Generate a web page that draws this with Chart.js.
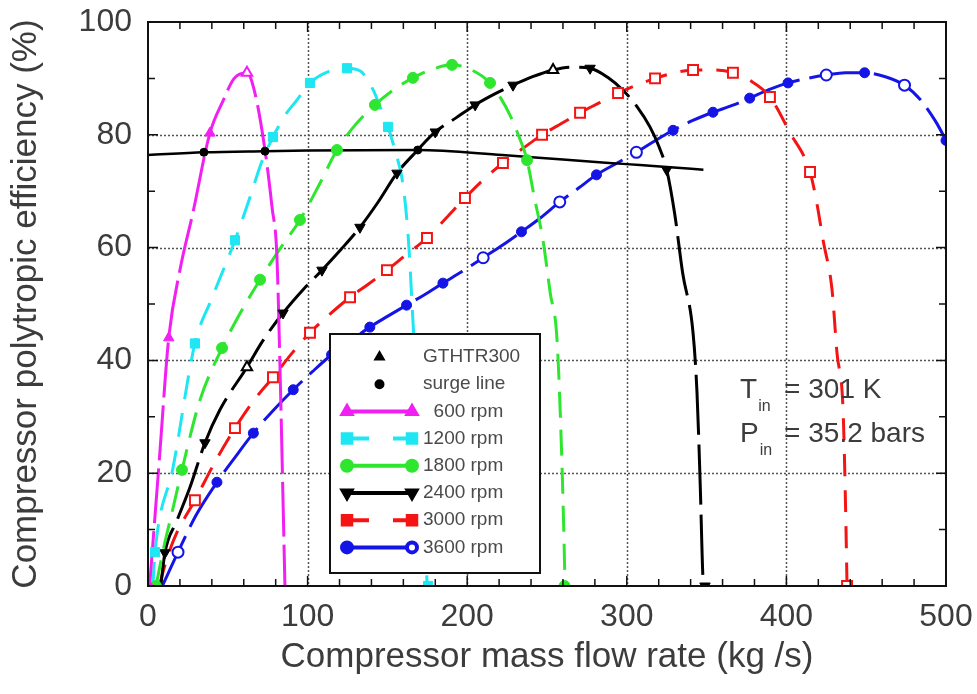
<!DOCTYPE html>
<html>
<head>
<meta charset="utf-8">
<script src="https://cdn.jsdelivr.net/npm/chart.js@4.4.1/dist/chart.umd.min.js"></script>
<style>
  html, body { margin: 0; padding: 0; background: #fff; }
  #wrap { width: 977px; height: 694px; }
</style>
</head>
<body>
<div id="wrap"><canvas id="chart" width="977" height="694"></canvas></div>
<script>
// axis ticks
const xTicks = [0, 100, 200, 300, 400, 500];
const yTicks = [0, 20, 40, 60, 80, 100];

const seriesLabels = ["GTHTR300", "surge line", "600 rpm", "1200 rpm", "1800 rpm", "2400 rpm", "3000 rpm", "3600 rpm"];

// speed lines, [mass flow, efficiency]
const line600 = [[1, 0], [7, 22], [13, 44], [20, 56], [28, 66], [38.8, 80.3], [47, 86], [54, 90], [62, 91],
  [67, 87.4], [73.3, 77.3], [77.7, 67.2], [80.8, 58.3], [82.7, 38.8], [84.6, 15.2], [85.8, 0]];
const mark600 = [[1, 0], [13, 44], [38.8, 80.3]];
const open600 = [[62, 91]];

const line1200 = [[3, 0], [4.4, 6], [15.7, 21], [29.4, 43], [40, 51], [54.5, 61.3], [64, 69], [71, 75], [78.3, 79.6],
  [86, 83.5], [93.4, 86.2], [101.5, 89.2], [113, 91.2], [124.7, 91.8], [133, 91.3], [141, 88], [146, 84.5],
  [150.4, 81.4], [155, 77], [159, 72.5], [161.5, 67], [163.5, 60], [166, 47], [168.5, 34], [171, 20], [173, 10], [175, 0]];
const mark1200 = [[4.4, 6], [29.4, 43], [54.5, 61.3], [78.3, 79.6], [101.5, 89.2], [124.7, 91.8], [150.4, 81.4], [175.5, 0]];

const line1800 = [[5, 0], [10, 7], [15, 13], [21.3, 20.6], [32.6, 33], [46.4, 42.2], [58, 48.5], [70.2, 54.3], [82, 59.5],
  [95.2, 64.9], [107, 71], [118.4, 77.3], [130, 81.8], [142.2, 85.3], [154, 88], [166, 90.1], [178, 91.6], [190.5, 92.4],
  [202, 91.6], [214.3, 89.2], [221, 86.5], [226.8, 83.5], [232, 80], [237.5, 75.5], [242, 69], [247.5, 61.3], [252, 52],
  [256.3, 43.6], [259, 25], [260.5, 10], [261.3, 0]];
const mark1800 = [[5, 0], [21.3, 20.6], [46.4, 42.2], [70.2, 54.3], [95.2, 64.9], [118.4, 77.3], [142.2, 85.3], [166, 90.1],
  [190.5, 92.4], [214.3, 89.2], [237.5, 75.5], [261, 0]];

const line2400 = [[8, 0], [10.6, 5.9], [18, 11.5], [26.3, 17.5], [35.7, 25.4], [45, 31.2], [62, 38.8], [72, 43.5], [84.6, 48.4],
  [97, 52.5], [109, 56], [121, 59.7], [132.8, 63.6], [144, 68], [156, 73.2], [168, 77], [180, 80.5], [193, 83], [205, 85.3],
  [217, 87.2], [228.7, 88.8], [241, 90.3], [253.8, 91.5], [265, 92], [277, 91.8], [288, 90.2], [297.6, 87.9], [306.4, 85],
  [314.5, 81.4], [320, 78], [325, 73.8], [330, 66], [335, 55.5], [341.5, 44.9], [344, 34.2], [346, 18], [347.7, 1.6], [348.5, 0]];
const mark2400 = [[10.6, 5.9], [35.7, 25.4], [84.6, 48.4], [109, 56], [132.8, 63.6], [156, 73.2], [180, 80.5], [205, 85.3],
  [228.7, 88.8], [277, 91.8], [325, 73.8], [349, 0]];
const open2400 = [[62, 38.8], [253.8, 91.5]];

const line3000 = [[7, 0], [12, 5], [18, 9.4], [29.4, 15.2], [42, 22], [54.5, 28], [66, 32.8], [78.3, 37], [90, 41.2],
  [101.5, 44.9], [114, 48.2], [126.6, 51.2], [138, 53.5], [149.7, 56], [162, 58.8], [174.8, 61.7], [187, 65.3], [198.6, 68.8],
  [210, 72], [222.4, 75], [235, 77.6], [246.9, 80], [259, 82], [270.7, 83.9], [283, 85.7], [294.5, 87.4], [306, 88.8],
  [317.7, 90], [330, 91], [341.5, 91.5], [355, 91.5], [366.5, 91], [378, 89.5], [389.7, 86.7], [402, 80.5], [414.8, 73.4],
  [419, 68], [423, 61.3], [428.6, 52.5], [431.7, 41.3], [435.5, 31.2], [437, 15], [438, 0]];
const mark3000 = [[29.4, 15.2], [54.5, 28], [78.3, 37], [101.5, 44.9], [126.6, 51.2], [149.7, 56], [174.8, 61.7],
  [198.6, 68.8], [222.4, 75], [246.9, 80], [270.7, 83.9], [294.5, 87.4], [317.7, 90], [341.5, 91.5], [366.5, 91],
  [389.7, 86.7], [414.8, 73.4], [438, 0]];

const line3600 = [[9, 0], [18.8, 6], [30, 12.5], [43.2, 18.4], [55, 23], [66, 27.1], [78, 31], [91, 34.8], [103, 38],
  [115, 41], [127, 43.5], [139, 45.9], [150, 47.8], [162, 49.8], [173, 51.6], [184.8, 53.7], [197, 55.8], [210, 58.2],
  [222, 60.4], [234, 62.8], [246, 65.3], [258, 68.1], [270, 70.6], [281, 72.9], [294, 75], [306, 76.9], [318, 79],
  [329, 80.8], [341, 82.5], [354, 84], [366, 85.2], [377, 86.5], [389, 88], [401, 89.2], [413, 90], [425, 90.6],
  [437, 91], [449, 91], [462, 90.3], [474, 88.8], [484, 86.2], [493, 82.6], [500, 79], [505, 76]];
const mark3600 = [[43.2, 18.4], [66, 27.1], [91, 34.8], [115, 41], [139, 45.9], [162, 49.8], [184.8, 53.7], [234, 62.8],
  [281, 72.9], [329, 80.8], [354, 84], [377, 86.5], [401, 89.2], [449, 91], [500, 79]];
const open3600 = [[18.8, 6], [210, 58.2], [258, 68.1], [306, 76.9], [425, 90.6], [474, 88.8]];

const surgeLine = [[0, 76.4], [35, 76.9], [73, 77.1], [100, 77.2], [169, 77.3], [222, 76.4], [260, 75.6], [300, 74.8],
  [325, 74.3], [348, 73.8]];
const surgeMarks = [[35, 76.9], [73.3, 77.1], [169, 77.3]];

const gthtr300 = [];

// annotation values
const tIn = "301 K";
const pIn = "35.2 bars";

const FONT = "'Liberation Sans', Arial, Helvetica, sans-serif";
const TEXT = "#3c3c3c";

const MAGENTA = "#f21ff2";
const CYAN = "#1ee6f2";
const GREEN = "#2ee62e";
const BLACK = "#000000";
const RED = "#f51414";
const BLUE = "#1414e6";

const toXY = (pts) => pts.map(([x, y]) => ({ x, y }));

function curve(points, color, dash) {
  return {
    data: toXY(points),
    showLine: true,
    borderColor: color,
    borderWidth: 3,
    borderDash: dash,
    pointRadius: 0,
    cubicInterpolationMode: "monotone",
    order: 3,
  };
}

function marks(points, color, style, extra) {
  return Object.assign({
    data: toXY(points),
    showLine: false,
    pointStyle: style,
    pointRadius: 5,
    pointBackgroundColor: color,
    pointBorderColor: color,
    pointBorderWidth: 1,
    order: 1,
  }, extra || {});
}

// legend entries: style only
const legendItems = [
  { label: seriesLabels[0], marker: { style: "triangle", color: BLACK, fill: BLACK, r: 5 }, only: true },
  { label: seriesLabels[1], marker: { style: "circle", color: BLACK, fill: BLACK, r: 4 }, only: true },
  { label: seriesLabels[2], color: MAGENTA, dash: [], marker: { style: "triangle", color: MAGENTA, fill: MAGENTA, r: 5 } },
  { label: seriesLabels[3], color: CYAN, dash: [22, 24], marker: { style: "rect", color: CYAN, fill: CYAN, r: 6 } },
  { label: seriesLabels[4], color: GREEN, dash: [], marker: { style: "circle", color: GREEN, fill: GREEN, r: 5 } },
  { label: seriesLabels[5], color: BLACK, dash: [], marker: { style: "triangle", rot: 180, color: BLACK, fill: BLACK, r: 5 } },
  { label: seriesLabels[6], color: RED, dash: [22, 24], marker: { style: "rect", color: RED, fill: RED, r: 6 } },
  { label: seriesLabels[7], color: BLUE, dash: [], marker: { style: "circle", color: BLUE, fill: BLUE, r: 5 }, endOpen: true },
];

const decor = {
  id: "decor",
  beforeDatasetsDraw(chart) {
    const { ctx, chartArea: a, scales: { x, y } } = chart;
    ctx.save();
    ctx.strokeStyle = "#555";
    ctx.lineWidth = 1.5;
    ctx.setLineDash([2, 2]);
    xTicks.slice(1, -1).forEach((v) => {
      const px = Math.round(x.getPixelForValue(v)) + 0.5;
      ctx.beginPath(); ctx.moveTo(px, a.top); ctx.lineTo(px, a.bottom); ctx.stroke();
    });
    yTicks.slice(1, -1).forEach((v) => {
      const py = Math.round(y.getPixelForValue(v)) + 0.5;
      ctx.beginPath(); ctx.moveTo(a.left, py); ctx.lineTo(a.right, py); ctx.stroke();
    });
    ctx.restore();
  },
  afterDatasetsDraw(chart) {
    const { ctx, chartArea: a, scales: { x, y } } = chart;
    ctx.save();
    // frame and inward ticks
    ctx.strokeStyle = "#111";
    ctx.lineWidth = 2;
    ctx.setLineDash([]);
    ctx.strokeRect(a.left, a.top, a.right - a.left, a.bottom - a.top);
    ctx.lineWidth = 1.5;
    for (let v = 0; v <= 500; v += 20) {
      const px = x.getPixelForValue(v);
      const len = v % 100 === 0 ? 10 : 7;
      ctx.beginPath();
      ctx.moveTo(px, a.bottom); ctx.lineTo(px, a.bottom - len);
      ctx.moveTo(px, a.top); ctx.lineTo(px, a.top + len);
      ctx.stroke();
    }
    for (let v = 0; v <= 100; v += 10) {
      const py = y.getPixelForValue(v);
      const len = v % 20 === 0 ? 10 : 7;
      ctx.beginPath();
      ctx.moveTo(a.left, py); ctx.lineTo(a.left + len, py);
      ctx.moveTo(a.right, py); ctx.lineTo(a.right - len, py);
      ctx.stroke();
    }

    // inlet conditions
    ctx.fillStyle = TEXT;
    ctx.textBaseline = "alphabetic";
    const ax = x.getPixelForValue(371);
    const rows = [["T", tIn, 33.3], ["P", pIn, 25.5]];
    rows.forEach(([sym, val, yv]) => {
      const by = y.getPixelForValue(yv);
      ctx.font = "28px " + FONT;
      ctx.textAlign = "left";
      ctx.fillText(sym, ax, by);
      const w = ctx.measureText(sym).width;
      ctx.fillText("= " + val, ax + 44, by);
      ctx.font = "16px " + FONT;
      ctx.fillText("in", ax + w + 1, by + 13);
    });

    // legend box
    const lx = a.left + 182, ly = a.top + 312, lw = 210, lh = 239;
    ctx.fillStyle = "#fff";
    ctx.fillRect(lx, ly, lw, lh);
    ctx.strokeStyle = "#111";
    ctx.lineWidth = 2;
    ctx.strokeRect(lx, ly, lw, lh);
    ctx.font = "19px " + FONT;
    const ref = ctx.measureText("1200 rpm").width;
    legendItems.forEach((it, i) => {
      const cy = ly + 23 + i * 27.2;
      const x0 = lx + 17, x1 = lx + 82;
      const m = it.marker;
      const pt = (px, open) => {
        ctx.fillStyle = open ? "#fff" : m.fill;
        ctx.strokeStyle = m.color;
        Chart.helpers.drawPoint(ctx, { pointStyle: m.style, radius: m.r, rotation: m.rot || 0, borderWidth: open ? 2 : 1 }, px, cy);
      };
      if (it.only) {
        pt((x0 + x1) / 2, false);
      } else {
        ctx.strokeStyle = it.color;
        ctx.lineWidth = 4;
        ctx.setLineDash(it.dash);
        ctx.beginPath(); ctx.moveTo(x0, cy); ctx.lineTo(x1, cy); ctx.stroke();
        ctx.setLineDash([]);
        pt(x0, false);
        pt(x1, !!it.endOpen);
      }
      ctx.font = "19px " + FONT;
      ctx.fillStyle = "#4a4a4a";
      ctx.textAlign = "left";
      ctx.textBaseline = "middle";
      let tx = lx + 93;
      if (it.label.endsWith("rpm")) tx += ref - ctx.measureText(it.label).width;
      ctx.fillText(it.label, tx, cy);
    });
    ctx.restore();
  },
};

new Chart(document.getElementById("chart"), {
  type: "scatter",
  data: {
    datasets: [
      Object.assign(curve(surgeLine, BLACK, []), { borderWidth: 2.5, order: 2 }),
      marks(surgeMarks, BLACK, "circle", { pointRadius: 4, order: 0 }),
      marks(gthtr300, BLACK, "triangle"),
      curve(line600, MAGENTA, [55, 8]),
      marks(mark600, MAGENTA, "triangle", { pointRadius: 6 }),
      marks(open600, MAGENTA, "triangle", { pointRadius: 6, pointBackgroundColor: "#fff", pointBorderWidth: 2 }),
      curve(line1200, CYAN, [24, 14]),
      marks(mark1200, CYAN, "rect", { pointRadius: 6.5 }),
      curve(line1800, GREEN, [26, 12]),
      marks(mark1800, GREEN, "circle", { pointRadius: 5.5 }),
      curve(line2400, BLACK, [60, 10]),
      marks(mark2400, BLACK, "triangle", { pointRadius: 6, pointRotation: 180 }),
      marks(open2400, BLACK, "triangle", { pointRadius: 6, pointBackgroundColor: "#fff", pointBorderWidth: 2 }),
      curve(line3000, RED, [22, 14]),
      marks(mark3000, RED, "rect", { pointRadius: 7, pointBackgroundColor: "#fff", pointBorderWidth: 2 }),
      curve(line3600, BLUE, [55, 10]),
      marks(mark3600, BLUE, "circle", { pointRadius: 5 }),
      marks(open3600, BLUE, "circle", { pointRadius: 5.5, pointBackgroundColor: "#fff", pointBorderWidth: 2 }),
    ],
  },
  options: {
    responsive: false,
    animation: false,
    events: [],
    layout: { padding: { top: 22, right: 31, left: 0, bottom: 0 } },
    plugins: { legend: { display: false }, tooltip: { enabled: false } },
    scales: {
      x: {
        type: "linear",
        min: 0,
        max: 500,
        afterFit(scale) {
          scale.height = 108;
          scale.paddingLeft = 0;
          scale.paddingRight = 0;
        },
        afterBuildTicks(scale) { scale.ticks = xTicks.map((v) => ({ value: v })); },
        grid: { display: false, drawTicks: false },
        border: { display: false },
        ticks: { color: TEXT, padding: 12, font: { family: FONT, size: 32 }, maxRotation: 0 },
        title: {
          display: true,
          text: "Compressor mass flow rate (kg /s)",
          color: TEXT,
          font: { family: FONT, size: 35 },
          padding: { top: 0, bottom: 16 },
        },
      },
      y: {
        type: "linear",
        min: 0,
        max: 100,
        afterFit(scale) {
          scale.width = 148;
          scale.paddingTop = 0;
          scale.paddingBottom = 0;
        },
        afterBuildTicks(scale) { scale.ticks = yTicks.map((v) => ({ value: v })); },
        grid: { display: false, drawTicks: false },
        border: { display: false },
        ticks: { color: TEXT, padding: 16, font: { family: FONT, size: 32 } },
        title: {
          display: true,
          text: "Compressor polytropic efficiency (%)",
          color: TEXT,
          font: { family: FONT, size: 35 },
          padding: { top: 5, bottom: 0 },
        },
      },
    },
  },
  plugins: [decor],
});
</script>
</body>
</html>
